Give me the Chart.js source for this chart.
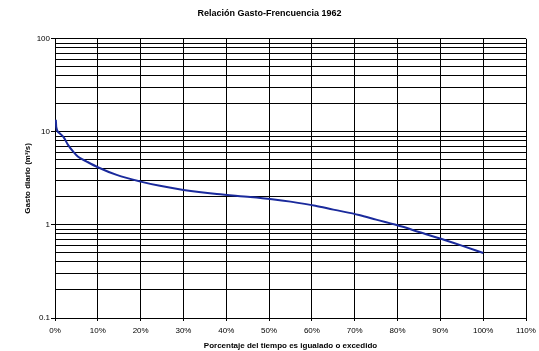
<!DOCTYPE html>
<html>
<head>
<meta charset="utf-8">
<script src="https://cdn.jsdelivr.net/npm/chart.js@4"></script>
<style>
  html, body { margin: 0; padding: 0; background: #fff; }
  #wrap { width: 539px; height: 351px; }
</style>
</head>
<body>
<div id="wrap"><canvas id="chart"></canvas></div>
<script>
// percentage of time equalled or exceeded
const pctTime = [0.2, 0.3, 1, 2, 3, 4.3, 5.4, 7.4, 10, 14.4, 20, 24.5, 30, 37.8, 45.6, 50.7, 55, 60.8, 65, 71, 75, 81, 85, 91, 95, 100];
// daily discharge (m3/s)
const gasto = [13.5, 11.2, 9.7, 8.8, 7.3, 6.1, 5.4, 4.8, 4.17, 3.45, 2.92, 2.63, 2.38, 2.15, 2.0, 1.89, 1.78, 1.61, 1.46, 1.28, 1.14, 0.96, 0.84, 0.69, 0.6, 0.5];

const yTicks = [0.1, 0.2, 0.3, 0.4, 0.5, 0.6, 0.7, 0.8, 0.9,
                1, 2, 3, 4, 5, 6, 7, 8, 9,
                10, 20, 30, 40, 50, 60, 70, 80, 90, 100];
const yLabelled = [0.1, 1, 10, 100];
const xTicks = [0, 10, 20, 30, 40, 50, 60, 70, 80, 90, 100, 110];

const fontFam = "'Liberation Sans', Arial, sans-serif";

const points = pctTime.map((x, i) => ({ x: x, y: gasto[i] }));

new Chart("chart", {
    type: "line",
    data: {
        datasets: [{
            data: points,
            borderColor: "#1a2a9c",
            borderWidth: 2,
            pointRadius: 0,
            tension: 0.3,
            cubicInterpolationMode: "monotone",
        }],
    },
    options: {
        responsive: true,
        maintainAspectRatio: false,
        animation: false,
        layout: { padding: 0 },
        plugins: {
            legend: { display: false },
            tooltip: { enabled: false },
            title: {
                display: true,
                text: "Relación Gasto-Frencuencia 1962",
                color: "#000",
                font: { family: fontFam, size: 9, weight: "bold" },
                padding: { top: 8, bottom: 20 },
            },
        },
        scales: {
            x: {
                type: "linear",
                min: 0,
                max: 110,
                afterBuildTicks: (s) => { s.ticks = xTicks.map((v) => ({ value: v })); },
                afterFit: (s) => {
                    s.height = 33;
                    // edge labels fit inside the fixed side boxes
                    s.paddingLeft = 0;
                    s.paddingRight = 0;
                },
                ticks: {
                    color: "#000",
                    font: { family: fontFam, size: 8 },
                    padding: 5,
                    maxRotation: 0,
                    callback: (v) => v + "%",
                },
                grid: { color: "#000", lineWidth: 1, tickLength: 3, tickColor: "#000" },
                border: { color: "#000" },
                title: {
                    display: true,
                    text: "Porcentaje del tiempo es igualado o excedido",
                    color: "#000",
                    font: { family: fontFam, size: 8, weight: "bold" },
                    padding: { top: 0, bottom: 0 },
                },
            },
            y: {
                type: "logarithmic",
                min: 0.1,
                max: 100,
                afterBuildTicks: (s) => { s.ticks = yTicks.map((v) => ({ value: v })); },
                afterFit: (s) => { s.width = 55; },
                ticks: {
                    color: "#000",
                    font: { family: fontFam, size: 8 },
                    padding: 1,
                    autoSkip: false,
                    callback: (v) => (yLabelled.includes(v) ? String(v) : ""),
                },
                grid: {
                    color: "#000",
                    lineWidth: 1,
                    tickLength: 4,
                    tickColor: (c) => (c.tick && yLabelled.includes(c.tick.value) ? "#000" : "rgba(0,0,0,0)"),
                },
                border: { color: "#000" },
                title: {
                    display: true,
                    text: "Gasto diario (m³/s)",
                    color: "#000",
                    font: { family: fontFam, size: 8, weight: "bold" },
                    padding: { top: 23, bottom: 0 },
                },
            },
            // empty right-hand spacer so the plot ends where the reference does
            yRight: {
                position: "right",
                display: true,
                afterFit: (s) => { s.width = 13; },
                grid: { display: false, drawOnChartArea: false },
                border: { display: false },
                ticks: { display: false },
            },
        },
    },
});
</script>
</body>
</html>
